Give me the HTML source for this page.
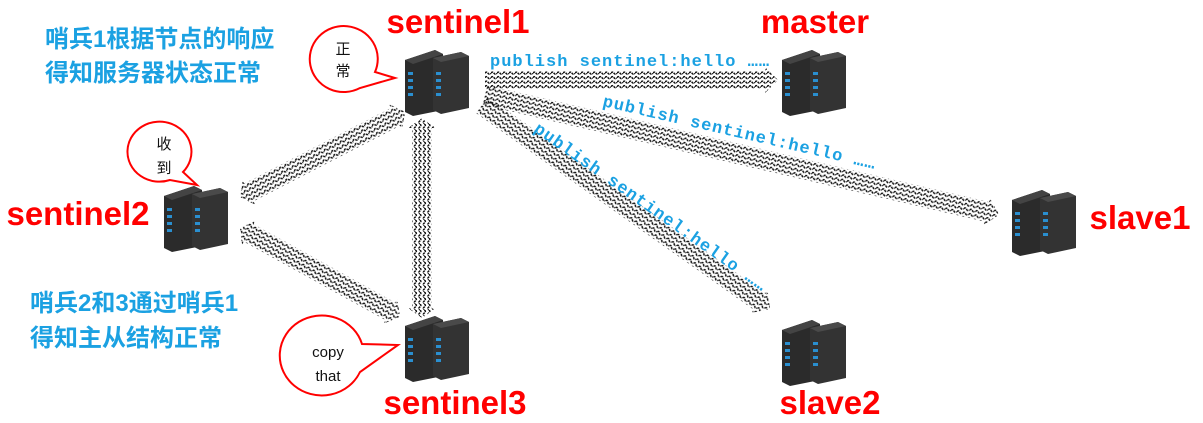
<!DOCTYPE html>
<html><head><meta charset="utf-8"><style>
body{margin:0;background:#fff;width:1203px;height:423px;overflow:hidden}
svg{display:block}
.red{font-family:"Liberation Sans",sans-serif;font-weight:bold;font-size:33px;fill:#f00}
.blue{font-family:"Liberation Sans","Noto Sans CJK SC",sans-serif;font-weight:bold;font-size:24px;fill:#1ba1e2}
.pub{font-family:"Liberation Mono",monospace;font-weight:bold;font-size:17px;letter-spacing:1px;fill:#1ba1e2}
.bt{font-family:"Liberation Sans","Noto Sans CJK SC",sans-serif;font-size:15px;fill:#111}
</style></head><body>
<svg width="1203" height="423" viewBox="0 0 1203 423">
<defs>
<pattern id="wv" width="6" height="4.5" patternUnits="userSpaceOnUse">
<path d="M0 2.2 Q1.5 0 3 2.2 T6 2.2" fill="none" stroke="#111" stroke-width="1.5" stroke-dasharray="2.5 0.8"/>
</pattern>
<g id="srv">
<polygon points="0,10 30,0 38,4 38,60 8,66 0,62" fill="#2b2b2b"/>
<polygon points="28,8 56,2 64,6 64,58 36,64 28,60" fill="#333"/>
<polygon points="0,10 30,0 38,4 8,14" fill="#444"/>
<polygon points="28,8 56,2 64,6 36,12" fill="#4a4a4a"/>
<g fill="#2a8fd0">
<rect x="3" y="22" width="5" height="3"/><rect x="3" y="29" width="5" height="3"/><rect x="3" y="36" width="5" height="3"/><rect x="3" y="43" width="5" height="3"/>
<rect x="31" y="22" width="5" height="3"/><rect x="31" y="29" width="5" height="3"/><rect x="31" y="36" width="5" height="3"/><rect x="31" y="43" width="5" height="3"/>
</g>
</g>
</defs>

<g transform="translate(485,80)"><rect x="0" y="-9" width="280" height="18" fill="url(#wv)"/><polygon points="280,-13 293,0 280,13" fill="url(#wv)"/></g>
<g transform="translate(485,95) rotate(13.1)"><rect x="0" y="-10" width="515" height="20" fill="url(#wv)"/><polygon points="515,-14 528,0 515,14" fill="url(#wv)"/></g>
<g transform="translate(482,105) rotate(35.3)"><rect x="0" y="-10" width="340" height="20" fill="url(#wv)"/><polygon points="340,-14 353,0 340,14" fill="url(#wv)"/></g>
<g transform="translate(240,197) rotate(-27.3)"><rect x="10" y="-10" width="165" height="20" fill="url(#wv)"/><polygon points="10,-14 0,0 10,14" fill="url(#wv)"/><polygon points="175,-14 186,0 175,14" fill="url(#wv)"/></g>
<g transform="translate(240,228) rotate(29)"><rect x="10" y="-10" width="162" height="20" fill="url(#wv)"/><polygon points="10,-14 0,0 10,14" fill="url(#wv)"/><polygon points="172,-14 183,0 172,14" fill="url(#wv)"/></g>
<g transform="translate(422,118) rotate(90)"><rect x="10" y="-10" width="180" height="20" fill="url(#wv)"/><polygon points="10,-14 0,0 10,14" fill="url(#wv)"/><polygon points="190,-14 200,0 190,14" fill="url(#wv)"/></g>

<use href="#srv" x="405" y="50"/>
<use href="#srv" x="782" y="50"/>
<use href="#srv" x="1012" y="190"/>
<use href="#srv" x="782" y="320"/>
<use href="#srv" x="164" y="186"/>
<use href="#srv" x="405" y="316"/>

<text class="red" x="458" y="33" text-anchor="middle">sentinel1</text>
<text class="red" x="815" y="33" text-anchor="middle">master</text>
<text class="red" x="1140" y="229" text-anchor="middle">slave1</text>
<text class="red" x="78" y="225" text-anchor="middle">sentinel2</text>
<text class="red" x="455" y="414" text-anchor="middle">sentinel3</text>
<text class="red" x="830" y="414" text-anchor="middle">slave2</text>

<text class="blue" x="45" y="47">哨兵1根据节点的响应</text>
<text class="blue" x="45" y="81">得知服务器状态正常</text>
<text class="blue" x="30" y="311">哨兵2和3通过哨兵1</text>
<text class="blue" x="30" y="346">得知主从结构正常</text>

<text class="pub" x="490" y="66">publish sentinel:hello ……</text>
<text class="pub" transform="translate(602,106) rotate(13)">publish sentinel:hello ……</text>
<text class="pub" transform="translate(533,131) rotate(35)">publish sentinel:hello ……</text>

<path d="M375,72 A34,33 0 1 0 360,88 L395,78 Z" fill="#fff" stroke="#f00" stroke-width="2"/>
<text class="bt" x="343" y="54" text-anchor="middle">正</text>
<text class="bt" x="343" y="76" text-anchor="middle">常</text>
<path d="M183,172 A32,30 0 1 0 170,180 L197,185 Z" fill="#fff" stroke="#f00" stroke-width="2"/>
<text class="bt" x="164" y="149" text-anchor="middle">收</text>
<text class="bt" x="164" y="173" text-anchor="middle">到</text>
<path d="M362,344 A42,40 0 1 0 360,372 L398,345 Z" fill="#fff" stroke="#f00" stroke-width="2"/>
<text class="bt" x="328" y="357" text-anchor="middle">copy</text>
<text class="bt" x="328" y="381" text-anchor="middle">that</text>
</svg>
</body></html>
